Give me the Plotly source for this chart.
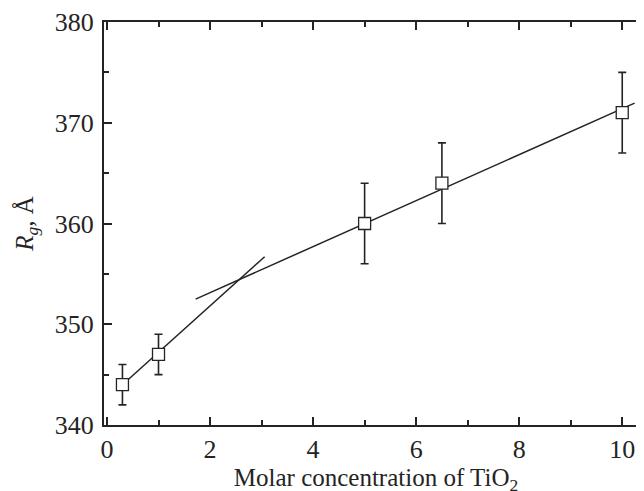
import plotly.graph_objects as go

# Data
conc = [0.3, 1.0, 5.0, 6.5, 10.0]
rg = [344, 347, 360, 364, 371]
rg_err = [2, 2, 4, 4, 4]

# Fitted line segments (endpoints)
fit1_x = [0.3, 3.06]
fit1_y = [344.0, 356.7]
fit2_x = [1.72, 10.24]
fit2_y = [352.5, 371.95]

x_ticks = [0, 2, 4, 6, 8, 10]
y_ticks = [340, 350, 360, 370, 380]

INK = "#242424"
FONT = "Liberation Serif"

fig = go.Figure()
fig.add_trace(go.Scatter(x=fit1_x, y=fit1_y, mode="lines",
                         line=dict(color=INK, width=1.5), showlegend=False))
fig.add_trace(go.Scatter(x=fit2_x, y=fit2_y, mode="lines",
                         line=dict(color=INK, width=1.5), showlegend=False))
fig.add_trace(go.Scatter(
    x=conc, y=rg, mode="markers",
    error_y=dict(type="data", array=rg_err, visible=True, color=INK,
                 thickness=1.6, width=4),
    marker=dict(symbol="square", size=12, color="white",
                line=dict(color=INK, width=1.3)),
    showlegend=False))

fig.update_layout(
    width=642, height=491,
    margin=dict(l=96, r=0, t=13, b=74),
    paper_bgcolor="white", plot_bgcolor="white",
    font=dict(family=FONT, size=26, color=INK),
    xaxis=dict(
        range=[-0.058, 10.50], tickvals=x_ticks, ticks="inside", ticklen=8,
        tickwidth=1.5, tickcolor=INK, showline=True, linecolor=INK, linewidth=2,
        mirror="ticks", showgrid=False, zeroline=False,
        ticklabeloverflow="allow",
        minor=dict(dtick=1, tick0=0, ticks="inside", ticklen=5, tickwidth=1.5,
                   tickcolor=INK, showgrid=False),
        tickfont=dict(family=FONT, size=26, color=INK),
        title=dict(text="Molar concentration of TiO<sub>2</sub>",
                   font=dict(family=FONT, size=25, color=INK), standoff=4),
    ),
    yaxis=dict(
        range=[340, 380], tickvals=y_ticks, ticks="inside", ticklen=8,
        tickwidth=1.5, tickcolor=INK, showline=True, linecolor=INK, linewidth=2,
        mirror="ticks", showgrid=False, zeroline=False,
        ticklabeloverflow="allow", ticklabelstandoff=3,
        minor=dict(dtick=5, tick0=340, ticks="inside", ticklen=5, tickwidth=1.5,
                   tickcolor=INK, showgrid=False),
        tickfont=dict(family=FONT, size=26, color=INK),
        title=dict(text="<i>R</i><sub><i>g</i></sub>, Å",
                   font=dict(family=FONT, size=25, color=INK), standoff=14),
    ),
)

fig.write_html("out.html")
